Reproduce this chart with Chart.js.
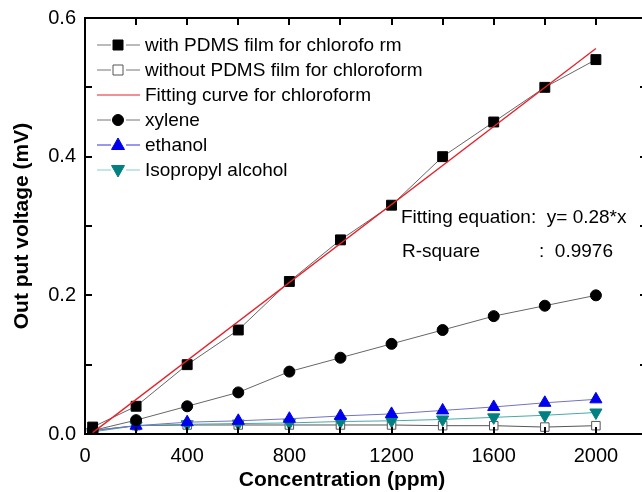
<!DOCTYPE html>
<html>
<head>
<meta charset="utf-8">
<script src="https://cdn.jsdelivr.net/npm/chart.js@4.4.1/dist/chart.umd.min.js"></script>
<style>
  html, body { margin: 0; padding: 0; overflow: hidden; background: #fff; }
</style>
</head>
<body>
<canvas id="chart" width="660" height="492"></canvas>
<script>
// concentration (ppm)
var conc = [30, 200, 400, 600, 800, 1000, 1200, 1400, 1600, 1800, 2000];
// output voltage (mV)
var withPdms    = [0.010, 0.040, 0.100, 0.150, 0.220, 0.280, 0.330, 0.400, 0.450, 0.500, 0.540];
var withoutPdms = [0.005, 0.012, 0.013, 0.013, 0.013, 0.013, 0.013, 0.012, 0.012, 0.010, 0.012];
var xylene      = [0.005, 0.020, 0.040, 0.060, 0.090, 0.110, 0.130, 0.150, 0.170, 0.185, 0.200];
var ethanol     = [0.005, 0.012, 0.017, 0.019, 0.022, 0.026, 0.029, 0.034, 0.039, 0.045, 0.050];
var isopropyl   = [0.003, 0.012, 0.014, 0.015, 0.016, 0.018, 0.019, 0.021, 0.024, 0.027, 0.031];
// fitting line y = 0.28*x
var fitX = [30, 2000];
var fitY = [0.002, 0.556];

var legendNames = [
  'with PDMS film for chlorofo rm',
  'without PDMS film for chloroform',
  'Fitting curve for chloroform',
  'xylene',
  'ethanol',
  'Isopropyl alcohol'
];
var fitText = ['Fitting equation:  y= 0.28*x', 'R-square', ':  0.9976'];

function pts(xs, ys) {
  return xs.map(function (x, i) { return {x: x, y: ys[i]}; });
}

var FONT = 'Arial, "Liberation Sans", sans-serif';

// marker for the custom legend
function marker(ctx, shape, x, y, fill, stroke) {
  ctx.save();
  ctx.fillStyle = fill;
  ctx.strokeStyle = stroke;
  ctx.lineWidth = 1;
  ctx.beginPath();
  if (shape == 'rect') {
    ctx.rect(x - 5, y - 5, 10, 10);
  } else if (shape == 'circle') {
    ctx.arc(x, y, 5.5, 0, Math.PI * 2);
  } else if (shape == 'tri') {
    ctx.moveTo(x, y - 7); ctx.lineTo(x + 6.5, y + 4.5); ctx.lineTo(x - 6.5, y + 4.5);
    ctx.closePath();
  } else if (shape == 'itri') {
    ctx.moveTo(x, y + 7); ctx.lineTo(x + 6.5, y - 4.5); ctx.lineTo(x - 6.5, y - 4.5);
    ctx.closePath();
  }
  if (shape != 'none') { ctx.fill(); ctx.stroke(); }
  ctx.restore();
}

var legendStyle = [
  {line: '#777', shape: 'rect', fill: '#000', stroke: '#000'},
  {line: '#777', shape: 'rect', fill: '#fff', stroke: '#555'},
  {line: '#e8202a', shape: 'none'},
  {line: '#777', shape: 'circle', fill: '#000', stroke: '#000'},
  {line: '#3333dd', shape: 'tri', fill: '#0000ee', stroke: '#0000ee'},
  {line: '#88cccc', shape: 'itri', fill: '#008080', stroke: '#008080'}
];

var framePlugin = {
  id: 'frame',
  afterDraw: function (chart) {
    var ctx = chart.ctx, a = chart.chartArea;
    var xs = chart.scales.x, ys = chart.scales.y;
    ctx.save();
    ctx.strokeStyle = '#000';
    ctx.lineWidth = 2;
    ctx.strokeRect(a.left, a.top, a.right - a.left, a.bottom - a.top);
    // inward ticks
    ctx.beginPath();
    xs.ticks.forEach(function (t) {
      var px = Math.round(xs.getPixelForValue(t.value));
      ctx.moveTo(px, a.bottom); ctx.lineTo(px, a.bottom - 7);
      ctx.moveTo(px, a.top); ctx.lineTo(px, a.top + 7);
    });
    ys.ticks.forEach(function (t) {
      var py = Math.round(ys.getPixelForValue(t.value));
      ctx.moveTo(a.left, py); ctx.lineTo(a.left + 7, py);
      ctx.moveTo(a.right, py); ctx.lineTo(a.right - 7, py);
    });
    ctx.stroke();

    // legend
    ctx.font = '19px ' + FONT;
    ctx.textBaseline = 'middle';
    legendNames.forEach(function (name, i) {
      var y = 45 + i * 25;
      var s = legendStyle[i];
      ctx.strokeStyle = s.line;
      ctx.lineWidth = 1;
      ctx.beginPath();
      if (s.shape == 'none') {
        ctx.moveTo(97, y); ctx.lineTo(140, y);
      } else {
        ctx.moveTo(97, y); ctx.lineTo(111, y);
        ctx.moveTo(126, y); ctx.lineTo(140, y);
      }
      ctx.stroke();
      marker(ctx, s.shape, 118, y, s.fill, s.stroke);
      ctx.fillStyle = '#000';
      ctx.fillText(name, 145, y + 1);
    });

    // fitting annotation
    ctx.font = '19px ' + FONT;
    ctx.fillText(fitText[0], 401, 218);
    ctx.fillText(fitText[1], 402, 252);
    ctx.fillText(fitText[2], 539, 252);

    // x axis title
    ctx.font = 'bold 21px ' + FONT;
    ctx.textAlign = 'center';
    ctx.fillText('Concentration (ppm)', 342, 480);
    ctx.restore();
  }
};

var ctx = document.getElementById('chart').getContext('2d');
var chart = new Chart(ctx, {
  type: 'scatter',
  data: {
    datasets: [
      {
        label: legendNames[2],
        data: pts(fitX, fitY),
        showLine: true,
        borderColor: '#e8202a',
        borderWidth: 1.3,
        pointRadius: 0,
        order: 0
      },
      {
        label: legendNames[0],
        data: pts(conc, withPdms),
        showLine: true,
        borderColor: '#666',
        borderWidth: 1,
        pointStyle: 'rect',
        pointRadius: 7,
        backgroundColor: '#000',
        pointBorderColor: '#000',
        order: 1
      },
      {
        label: legendNames[3],
        data: pts(conc, xylene),
        showLine: true,
        borderColor: '#666',
        borderWidth: 1,
        pointStyle: 'circle',
        pointRadius: 5.5,
        backgroundColor: '#000',
        pointBorderColor: '#000',
        order: 2
      },
      {
        label: legendNames[4],
        data: pts(conc, ethanol),
        showLine: true,
        borderColor: '#7272c4',
        borderWidth: 1,
        pointStyle: 'triangle',
        pointRadius: 7,
        backgroundColor: '#0000ee',
        pointBorderColor: '#0000ee',
        order: 3
      },
      {
        label: legendNames[5],
        data: pts(conc, isopropyl),
        showLine: true,
        borderColor: '#4aa8a8',
        borderWidth: 1,
        pointStyle: 'triangle',
        rotation: 180,
        pointRadius: 7,
        backgroundColor: '#008080',
        pointBorderColor: '#008080',
        order: 4
      },
      {
        label: legendNames[1],
        data: pts(conc, withoutPdms),
        showLine: true,
        borderColor: '#555',
        borderWidth: 1,
        pointStyle: 'rect',
        pointRadius: 6,
        backgroundColor: '#fff',
        pointBorderColor: '#555',
        pointBorderWidth: 1,
        order: 5
      }
    ]
  },
  options: {
    responsive: false,
    animation: false,
    events: [],
    layout: { padding: { top: 18, right: 13, left: 0, bottom: 0 } },
    plugins: {
      legend: { display: false },
      tooltip: { enabled: false }
    },
    scales: {
      x: {
        type: 'linear',
        min: 0,
        max: 2200,
        grid: { display: false },
        border: { display: false },
        ticks: {
          stepSize: 200,
          autoSkip: false,
          maxRotation: 0,
          padding: 2,
          color: '#000',
          font: { family: FONT, size: 20 },
          callback: function (v) { return v % 400 === 0 && v <= 2000 ? String(v) : ''; }
        },
        afterFit: function (s) { s.height = 58; }
      },
      y: {
        type: 'linear',
        min: 0,
        max: 0.6,
        grid: { display: false },
        border: { display: false },
        ticks: {
          stepSize: 0.1,
          autoSkip: false,
          padding: 1,
          color: '#000',
          font: { family: FONT, size: 20 },
          callback: function (v) {
            var k = Math.round(v * 10);
            return k % 2 === 0 ? (k / 10).toFixed(1) : '';
          }
        },
        title: {
          display: true,
          text: 'Out put voltage (mV)',
          color: '#000',
          font: { family: FONT, size: 21, weight: 'bold' },
          padding: { top: 10, bottom: 0 }
        },
        afterFit: function (s) { s.width = 85; }
      }
    }
  },
  plugins: [framePlugin]
});
</script>
</body>
</html>
